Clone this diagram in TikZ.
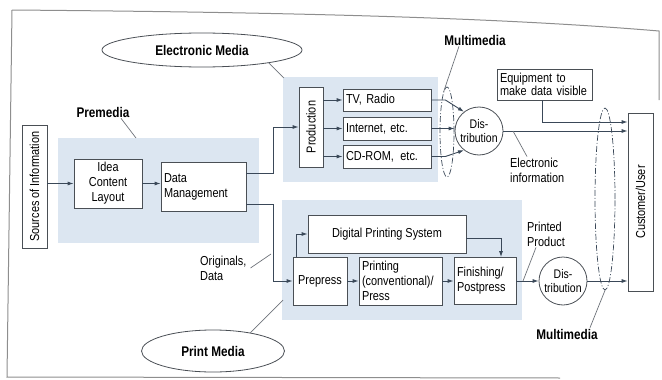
\documentclass[tikz,border=0pt]{standalone}
\usepackage{fontspec}
\setmainfont{Liberation Sans}[FakeStretch=0.84]
\usetikzlibrary{arrows.meta,shapes.geometric}

\definecolor{panel}{HTML}{DCE6F1}
\definecolor{ink}{HTML}{3A4858}
\definecolor{edge}{HTML}{4A4F55}
\definecolor{leadercol}{HTML}{6E737A}
\definecolor{framecol}{HTML}{8E8E8E}

\begin{document}
\begin{tikzpicture}[x=1pt,y=-1pt,
  font=\fontsize{13}{15}\selectfont,
  box/.style={draw=edge, line width=0.8pt, fill=white, inner xsep=3pt, inner ysep=1pt},
  vbox/.style={box, rotate=90, inner sep=1pt},
  hub/.style={draw=edge, line width=0.8pt, fill=white, circle, minimum size=48pt,
    inner sep=0pt, align=center, font=\fontsize{12.5}{13.5}\selectfont},
  oval/.style={draw=edge, line width=0.8pt, fill=white, ellipse, inner sep=0pt,
    font=\fontsize{14}{16}\selectfont\bfseries},
  tag/.style={font=\fontsize{14}{16}\selectfont\bfseries, inner sep=1pt},
  note/.style={align=left, inner sep=1pt},
  arr/.style={draw=ink, line width=0.9pt, -{Latex[length=6pt,width=4pt]}},
  leader/.style={draw=leadercol, line width=0.7pt},
  mmring/.style={draw=ink, line width=0.7pt, dash pattern=on 6pt off 2pt on 1pt off 2pt, ellipse, inner sep=0pt},
  frame/.style={draw=framecol, line width=1pt},
]
\useasboundingbox (0,0) rectangle (662,380);

% page frame
\draw[frame] (12,10) .. controls (250,12) and (480,16) .. (659,31) -- (659,100);
\draw[frame] (12,10) -- (7,377) -- (560,378);

% shaded stage panels
\fill[panel] (58,138) rectangle (259,243);
\fill[panel] (283,77) rectangle (438,182);
\fill[panel] (282,200) rectangle (522,320);

% premedia
\node[vbox, minimum width=123, minimum height=25] (src) at (34.5,186.5) {Sources of Information};
\node[box, text width=62, minimum height=49, align=center] (idea) at (108,183.5) {Idea\\Content\\Layout};
\node[box, text width=79, minimum height=49, align=left] (data) at (203.5,186.5) {Data\\Management};

% electronic media
\node[vbox, minimum width=80, minimum height=24] (prod) at (311,127) {Production};
\node[box, text width=82, minimum height=22, align=left] (tv) at (387,100) {TV, Radio};
\node[box, text width=82, minimum height=23, align=left] (inet) at (387,128.5) {Internet, etc.};
\node[box, text width=82, minimum height=23, align=left] (cd) at (387,156.5) {CD-ROM, \,etc.};
\node[hub] (dist1) at (479,131) {Dis-\\tribution};
\node[box, text width=89, minimum height=31, align=left, font=\fontsize{13}{13}\selectfont] (equip) at (544.5,84.5) {Equipment to\\make data visible};
\node[vbox, minimum width=178, minimum height=25] (cust) at (640.5,202) {Customer/User};

% print media
\node[box, minimum width=158, minimum height=38] (digi) at (387,234) {Digital Printing System};
\node[box, minimum width=54, minimum height=48] (pre) at (320,281) {Prepress};
\node[box, text width=77, minimum height=48, align=left] (press) at (400.5,281) {Printing\\(conventional)/\\Press};
\node[box, text width=56, minimum height=47, align=left] (fin) at (485,281) {Finishing/\\Postpress};
\node[hub] (dist2) at (563,281) {Dis-\\tribution};

% media ovals and multimedia rings
\node[oval, minimum width=200, minimum height=34] (emed) at (202,50) {Electronic Media};
\node[oval, minimum width=143, minimum height=42] (pmed) at (213,351) {Print Media};
\node[mmring, minimum width=14, minimum height=90] (ring1) at (447,132) {};
\node[mmring, minimum width=20, minimum height=182] (ring2) at (605,199) {};

% labels
\node[tag] (premedia) at (103,112) {Premedia};
\node[tag] (mmtop) at (475,40) {Multimedia};
\node[tag] (mmbot) at (567,334) {Multimedia};
\node[note, anchor=west] (orig) at (199,268) {Originals,\\Data};
\node[note, anchor=west] (einfo) at (509,170) {Electronic\\information};
\node[note, anchor=west] (pprod) at (526,234) {Printed\\Product};

% helper points
\coordinate (jx) at (273,0);
\coordinate (eqx) at (542,0);
\coordinate (yeq) at (0,122);
\coordinate (premp) at (136,138);
\coordinate (emedp) at (284,78);
\coordinate (pmedp) at (283,300);
\coordinate (eip) at (513,131);
\coordinate (ppp) at (523,281);
\coordinate (origp) at (271,254);

% flow
\draw[arr] (src.south |- idea.west) -- (idea.west);
\draw[arr] (idea.east) -- (idea.east -| data.west);
\draw[arr] ([yshift=13.5pt]data.east) -| (jx |- prod.north) -- (prod.north);
\draw[arr] ([yshift=-17.5pt]data.east) -| (jx |- pre.west) -- (pre.west);
\foreach \t in {tv,inet,cd} \draw[arr] (prod.south |- \t.west) -- (\t.west);
\draw[arr] (tv.east) -- ++(14,0) -- (dist1.128);
\draw[arr] (inet.east) -- (inet.east -| dist1.west);
\draw[arr] (cd.east) -- ++(14,0) -- (dist1.232);
\draw[arr] (eqx |- equip.south) |- (yeq -| cust.north);
\draw[arr] (dist1.east) -- (dist1.east -| cust.north);
\draw[arr] (pre.east) -- (press.west);
\draw[arr] (press.east) -- (fin.west);
\draw[arr] (fin.east) -- (dist2.west);
\draw[arr] (dist2.east) -- (dist2.east -| cust.north);
\draw[arr] ([xshift=4pt]pre.north west) |- (digi.west);
\draw[arr] ([yshift=-4pt]digi.east) -| ([xshift=16pt]fin.north);

% leader lines
\draw[leader] ([xshift=18pt]premedia.south) -- (premp);
\draw[leader] (emed.-11) -- (emedp);
\draw[leader] (pmed.26) -- (pmedp);
\draw[leader] ([xshift=-16pt]mmtop.south) -- (ring1.95);
\draw[leader] ([xshift=23pt]mmbot.north) -- (ring2.south);
\draw[leader] (eip) -- ([xshift=18pt]einfo.north west);
\draw[leader] ([xshift=10pt]pprod.south west) -- (ppp);
\draw[leader] ([xshift=3pt]orig.east) -- (origp);
\end{tikzpicture}
\end{document}
